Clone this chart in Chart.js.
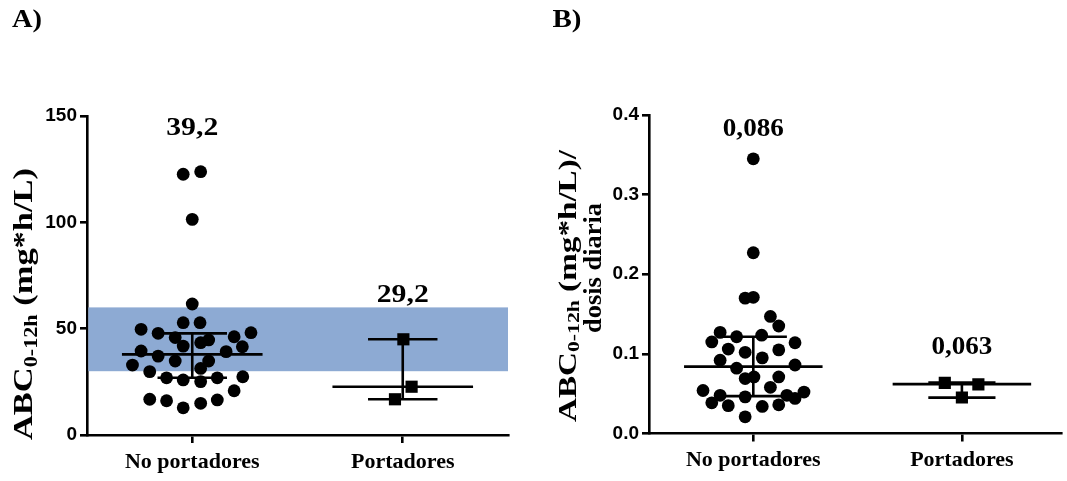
<!DOCTYPE html>
<html><head><meta charset="utf-8">
<script src="https://cdn.jsdelivr.net/npm/chart.js@4"></script>
<style>
html,body{margin:0;padding:0;background:#fff;width:1067px;height:481px;overflow:hidden;position:relative}
#wrapA{position:absolute;left:0;top:0;width:533px;height:481px}
#wrapB{position:absolute;left:533px;top:0;width:537px;height:481px}
canvas{display:block}
</style></head><body>
<div id="wrapA"><canvas id="cA" width="533" height="481"></canvas></div>
<div id="wrapB"><canvas id="cB" width="537" height="481"></canvas></div>
<script>
// ---------- shared ----------
const categories = ['No portadores', 'Portadores'];
const panelTitles = ['A)', 'B)'];

// ---------- Panel A : ABC 0-12h (mg*h/L) ----------
const tickValuesA = [0, 50, 100, 150];
const tickLabelsA = ['0', '50', '100', '150'];
const aNoValues = [122.6, 123.8, 101.4, 61.6, 52.8, 52.8, 49.7, 47.8, 45.8, 43.4, 44.7, 46.2, 48.1, 41.8, 41.5, 39.5, 37.1, 39.2, 34.8, 34.8, 32.9, 31.3, 29.8, 26.9, 25.9, 25.1, 26.9, 27.4, 20.8, 16.8, 16.1, 12.8, 14.9, 16.5];
const aNoJitter = [-0.043, 0.040, 0, 0, -0.043, 0.037, -0.243, -0.162, -0.081, 0.040, 0.078, 0.199, 0.279, -0.043, 0.238, -0.243, -0.162, 0.161, -0.081, 0.078, -0.284, 0.040, -0.202, -0.122, -0.043, 0.040, 0.119, 0.240, 0.199, -0.202, -0.122, -0.043, 0.040, 0.119];
const aPorValues = [45.0, 22.7, 16.8];
const aPorJitter = [0.003, 0.042, -0.037];
const aMedian = [37.9, 22.7];
const aQ1 = [26.9, 16.8];
const aQ3 = [47.8, 45.0];
const aValueLabels = ['39,2', '29,2'];
const aValueLabelY = [144, 65.4];
const aBand = [30, 60];

// ---------- Panel B : ABC 0-12h (mg*h/L)/dosis diaria ----------
const tickValuesB = [0.0, 0.1, 0.2, 0.3, 0.4];
const tickLabelsB = ['0.0', '0.1', '0.2', '0.3', '0.4'];
const bNoValues = [0.345, 0.227, 0.170, 0.171, 0.147, 0.135, 0.127, 0.115, 0.1215, 0.1235, 0.114, 0.106, 0.102, 0.105, 0.095, 0.092, 0.082, 0.086, 0.069, 0.071, 0.071, 0.054, 0.048, 0.046, 0.058, 0.0385, 0.035, 0.034, 0.036, 0.048, 0.044, 0.052, 0.021];
const bNoJitter = [0, 0, -0.039, 0.0, 0.082, 0.122, -0.159, -0.199, -0.080, 0.040, 0.200, -0.120, -0.039, 0.122, 0.043, -0.159, -0.080, 0.200, -0.039, 0.003, 0.122, -0.241, -0.159, -0.039, 0.082, -0.199, -0.120, 0.043, 0.122, 0.161, 0.200, 0.243, -0.039];
const bPorValues = [0.0636, 0.0616, 0.0452];
const bPorJitter = [-0.082, 0.079, 0];
const bMedian = [0.084, 0.062];
const bQ1 = [0.047, 0.045];
const bQ3 = [0.1215, 0.064];
const bValueLabels = ['0,086', '0,063'];
const bValueLabelY = [0.382, 0.108];

// ---------- helpers ----------
const SERIF = '"Liberation Serif", "Times New Roman", serif';
const SANS = '"Liberation Sans", Arial, sans-serif';

function drawTextRun(ctx, segs, cx, cy, target, rotate) {
  ctx.save();
  ctx.fillStyle = '#000';
  ctx.textBaseline = 'middle';
  ctx.textAlign = 'left';
  let total = 0;
  const widths = segs.map(s => { ctx.font = s.font; const w = ctx.measureText(s.text).width; total += w; return w; });
  const sc = target ? target / total : 1;
  ctx.translate(cx, cy);
  if (rotate) ctx.rotate(-Math.PI / 2);
  ctx.scale(sc, 1);
  let x = -total / 2;
  segs.forEach((s, i) => { ctx.font = s.font; ctx.fillText(s.text, x, s.dy || 0); x += widths[i]; });
  ctx.restore();
}

function pts(values, jitter, cat) {
  return values.map((v, i) => ({ x: cat + jitter[i], y: v }));
}

function statDatasets(median, q1, q3, halfMed, halfIqr) {
  const ds = [];
  const line = (data) => ({ type: 'scatter', data, showLine: true, borderColor: '#000', borderWidth: 2.6, pointRadius: 0, pointHoverRadius: 0, order: 0 });
  median.forEach((m, i) => {
    const c = i + 1;
    ds.push(line([{ x: c - halfMed, y: m }, { x: c + halfMed, y: m }]));
    ds.push(line([{ x: c - halfIqr, y: q3[i] }, { x: c + halfIqr, y: q3[i] }]));
    ds.push(line([{ x: c - halfIqr, y: q1[i] }, { x: c + halfIqr, y: q1[i] }]));
    ds.push(line([{ x: c, y: q1[i] }, { x: c, y: q3[i] }]));
  });
  return ds;
}

function makePanel(canvas, cfg) {
  const bandPlugin = {
    id: 'band',
    beforeDatasetsDraw(chart) {
      if (!cfg.band) return;
      const { ctx, chartArea, scales } = chart;
      const yTop = scales.y.getPixelForValue(cfg.band[1]);
      const yBot = scales.y.getPixelForValue(cfg.band[0]);
      ctx.save();
      ctx.fillStyle = '#8DAAD3';
      ctx.fillRect(chartArea.left + 1.3, yTop, chartArea.right - chartArea.left - 1.3, yBot - yTop);
      ctx.restore();
    }
  };
  const textPlugin = {
    id: 'texts',
    afterDraw(chart) {
      const { ctx, scales } = chart;
      cfg.valueLabels.forEach((t, i) => {
        const x = scales.x.getPixelForValue(i + 1);
        const y = scales.y.getPixelForValue(cfg.valueLabelY[i]);
        drawTextRun(ctx, [{ text: t, font: 'bold 25px ' + SERIF }], x, y, cfg.valueLabelWidths[i], false);
      });
      drawTextRun(ctx, [{ text: cfg.letter, font: 'bold 25px ' + SERIF }], cfg.letterPos[0], cfg.letterPos[1], cfg.letterWidth, false);
      cfg.yTitles.forEach(tl => drawTextRun(ctx, tl.segs, tl.x, tl.y, tl.len, true));
    }
  };
  const datasets = [
    { type: 'scatter', data: pts(cfg.noValues, cfg.noJitter, 1), pointStyle: 'circle', pointRadius: 6.4, backgroundColor: '#000', borderWidth: 0, order: 1 },
    { type: 'scatter', data: pts(cfg.porValues, cfg.porJitter, 2), pointStyle: 'rect', pointRadius: 8.6, backgroundColor: '#000', borderWidth: 0, order: 1 },
    ...statDatasets(cfg.median, cfg.q1, cfg.q3, cfg.halfMed, cfg.halfIqr)
  ];
  return new Chart(canvas, {
    type: 'scatter',
    data: { datasets },
    options: {
      responsive: false,
      animation: false,
      events: [],
      layout: { padding: cfg.padding },
      plugins: { legend: { display: false }, tooltip: { enabled: false } },
      scales: {
        x: {
          type: 'linear', min: 0.5, max: cfg.xMax,
          afterBuildTicks: s => { s.ticks = [{ value: 1 }, { value: 2 }]; },
          afterFit: s => { s.height = cfg.xHeight; },
          ticks: { callback: v => categories[Math.round(v) - 1], color: '#000', font: { family: SERIF, weight: 'bold', size: 22 }, padding: 6, autoSkip: false, maxRotation: 0 },
          grid: { drawOnChartArea: false, drawTicks: true, tickLength: 8, color: '#000', lineWidth: 2.6 },
          border: { display: true, color: '#000', width: 2.6 }
        },
        y: {
          type: 'linear', min: cfg.tickValues[0], max: cfg.tickValues[cfg.tickValues.length - 1],
          afterBuildTicks: s => { s.ticks = cfg.tickValues.map(v => ({ value: v })); },
          afterFit: s => { s.width = cfg.yWidth; },
          ticks: { callback: (v) => cfg.tickLabels[cfg.tickValues.findIndex(t => Math.abs(t - v) < 1e-9)], color: '#000', font: { family: SANS, weight: 'bold', size: 19 }, padding: 3 },
          grid: { drawOnChartArea: false, drawTicks: true, tickLength: 7, color: '#000', lineWidth: 2.6 },
          border: { display: true, color: '#000', width: 2.6 }
        }
      }
    },
    plugins: [bandPlugin, textPlugin]
  });
}

makePanel(document.getElementById('cA'), {
  noValues: aNoValues, noJitter: aNoJitter, porValues: aPorValues, porJitter: aPorJitter,
  median: aMedian, q1: aQ1, q3: aQ3, halfMed: 0.334, halfIqr: 0.165,
  tickValues: tickValuesA, tickLabels: tickLabelsA, band: aBand,
  valueLabels: aValueLabels, valueLabelY: aValueLabelY, valueLabelWidths: [52, 52],
  letter: panelTitles[0], letterPos: [27, 21], letterWidth: 30,
  padding: { top: 116, right: 25, left: 0, bottom: 0 }, yWidth: 87, xHeight: 46, xMax: 2.5,
  yTitles: [{ x: 25, y: 304, len: 272, segs: [{ text: 'ABC', font: 'bold 28px ' + SERIF }, { text: '0-12h', font: 'bold 18px ' + SERIF, dy: 7 }, { text: ' (mg*h/L)', font: 'bold 28px ' + SERIF }] }]
});

makePanel(document.getElementById('cB'), {
  noValues: bNoValues, noJitter: bNoJitter, porValues: bPorValues, porJitter: bPorJitter,
  median: bMedian, q1: bQ1, q3: bQ3, halfMed: 0.332, halfIqr: 0.161,
  tickValues: tickValuesB, tickLabels: tickLabelsB, band: null,
  valueLabels: bValueLabels, valueLabelY: bValueLabelY, valueLabelWidths: [61, 61],
  letter: panelTitles[1], letterPos: [567 - 533, 21], letterWidth: 29,
  padding: { top: 115, right: 0, left: 0, bottom: 0 }, yWidth: 116, xHeight: 47.5, xMax: 2.477,
  yTitles: [
    { x: 569 - 533, y: 286, len: 272, segs: [{ text: 'ABC', font: 'bold 26px ' + SERIF }, { text: '0-12h', font: 'bold 17px ' + SERIF, dy: 6 }, { text: ' (mg*h/L)/', font: 'bold 26px ' + SERIF }] },
    { x: 594 - 533, y: 268, len: 130, segs: [{ text: 'dosis diaria', font: 'bold 26px ' + SERIF }] }
  ]
});
</script>
</body></html>
